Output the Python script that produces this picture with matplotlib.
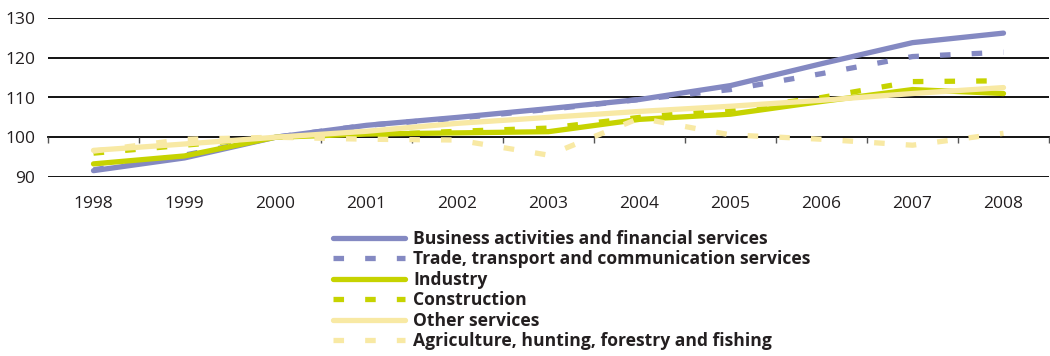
import matplotlib
matplotlib.use("Agg")
import matplotlib.pyplot as plt
import numpy as np

years = ["1998", "1999", "2000", "2001", "2002", "2003", "2004", "2005", "2006", "2007", "2008"]
business = [91.6, 94.8, 100.0, 103.0, 105.0, 107.2, 109.5, 113.0, 118.5, 123.8, 126.2]
trade = [91.8, 95.5, 100.0, 103.0, 104.8, 107.0, 109.5, 112.0, 116.0, 120.3, 121.4]
industry = [93.3, 95.3, 100.0, 100.8, 101.1, 101.4, 104.5, 105.8, 109.0, 112.0, 111.0]
construction = [96.0, 98.0, 100.0, 100.5, 101.5, 102.3, 105.0, 107.0, 110.0, 114.0, 114.2]
other = [96.7, 98.3, 100.0, 101.5, 103.5, 105.0, 106.5, 107.8, 109.3, 111.0, 112.5]
agriculture = [96.5, 99.5, 100.0, 99.5, 99.3, 95.5, 104.8, 100.6, 99.5, 98.0, 101.0]
labels = ["Business activities and financial services",
          "Trade, transport and communication services",
          "Industry",
          "Construction",
          "Other services",
          "Agriculture, hunting, forestry and fishing"]
yticks = [90, 100, 110, 120, 130]

blue = "#8489c2"
green = "#c6d300"
yellow = "#f8e9a4"

plt.rcParams['font.family'] = ['Open Sans', 'DejaVu Sans']

W, H = 1050, 356
fig = plt.figure(figsize=(W / 100, H / 100), dpi=100)
ax = fig.add_axes([48 / W, 1 - 177 / H, (1049 - 48) / W, (177 - 18) / H])

x = np.arange(len(years))
lw = 3.8
series = [
    (business, blue, '-'),
    (trade, blue, '--'),
    (industry, green, '-'),
    (construction, green, '--'),
    (other, yellow, '-'),
    (agriculture, yellow, '--'),
]
handles = []
for (vals, col, ls), lab in zip(series, labels):
    if ls == '-':
        h, = ax.plot(x, vals, color=col, lw=lw, solid_capstyle='round', label=lab)
    else:
        h, = ax.plot(x, vals, color=col, lw=lw, dashes=(2.0, 4.0), dash_capstyle='butt', label=lab)
    handles.append(h)

ax.set_xlim(-0.5, len(years) - 0.5)
ax.set_ylim(90, 130)
ax.set_yticks(yticks)
for yv in yticks:
    if yv != 100:
        ax.axhline(yv, color='black', lw=1.3, zorder=0)
for s in ['top', 'left', 'right']:
    ax.spines[s].set_visible(False)
ax.spines['bottom'].set_position(('data', 100))
ax.spines['bottom'].set_linewidth(1.3)
ax.spines['bottom'].set_zorder(0)

ax.set_xticks(x)
ax.set_xticklabels(years)
ax.set_xticks(np.arange(-0.5, len(years), 1.0), minor=True)
ax.tick_params(axis='x', which='major', length=0, pad=42, labelsize=12.5, colors='#231f20')
ax.tick_params(axis='x', which='minor', length=4, width=1, color='#555555', direction='out')
ax.tick_params(axis='y', length=0, pad=9, labelsize=12.5, colors='#231f20')

leg = fig.legend(handles=handles, loc='upper left', bbox_to_anchor=(333 / W, 1 - 230 / H),
                 frameon=False, prop={'weight': 'bold', 'size': 12.6},
                 handlelength=4.1, handletextpad=0.5, labelspacing=0.14,
                 borderpad=0, borderaxespad=0)
for t in leg.get_texts():
    t.set_color('#231f20')

fig.savefig("out.png", dpi=100)
